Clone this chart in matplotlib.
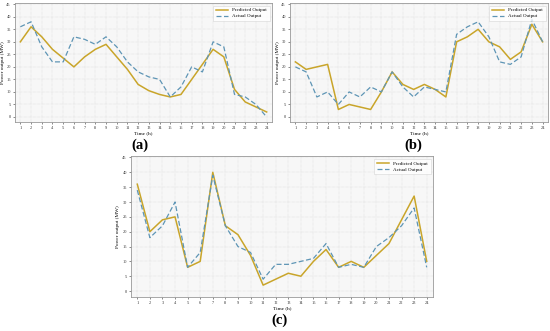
import matplotlib
matplotlib.use("Agg")
import matplotlib.pyplot as plt

hours = list(range(1, 25))
hour_labels = [str(h) for h in hours]
y_ticks = [0, 5, 10, 15, 20, 25, 30, 35, 40, 45]

pred_a = [30, 36, 32, 27, 23.5, 20, 24, 27, 29, 24, 19, 13, 10.5, 9, 8, 9, 15, 21, 27, 24, 11, 6, 4, 2]
act_a = [36, 38, 28, 22, 22, 32, 31, 29, 32, 28, 22, 18, 16, 15, 8, 12, 20, 18, 30, 28, 9, 8, 5, 0]

pred_b = [22, 19, 20, 21, 3, 5, 4, 3, 10, 18, 13, 11, 13, 11, 8, 30, 32, 35, 30, 28, 23, 26, 37, 30]
act_b = [20, 18, 8, 10, 5, 10, 8, 12, 10, 18, 12, 8, 12, 11, 10, 33, 36, 38, 32, 22, 21, 24, 39, 30]

pred_c = [36, 20, 24, 25, 8, 10, 40, 22, 19, 12, 2, 4, 6, 5, 10, 14, 8, 10, 8, 12, 16, 24, 32, 10]
act_c = [34, 18, 22, 30, 8, 13, 39, 22, 15, 13, 4, 9, 9, 10, 11, 16, 8, 9, 8, 15, 18, 22, 28, 8]

plt.rcParams['font.family'] = ['Liberation Serif', 'DejaVu Serif']

PRED_COLOR = '#c9a52a'
ACT_COLOR = '#5e95b5'

fig = plt.figure(figsize=(5.5, 3.31), dpi=100)
fig.patch.set_facecolor('white')

def panel(rect, pred, act, tag, tag_xy, ylabel_x):
    ax = fig.add_axes(rect)
    ax.set_facecolor('#f7f7f7')
    ax.plot(hours, pred, color=PRED_COLOR, lw=1.1, label='Predicted Output')
    ax.plot(hours, act, color=ACT_COLOR, lw=0.9, ls=(0, (4, 2)), label='Actual Output')
    ax.set_xlim(0.5, 24.5)
    ax.set_ylim(-2, 45.5)
    ax.set_xticks(hours)
    ax.set_xticklabels(hour_labels)
    ax.set_yticks(y_ticks)
    ax.tick_params(labelsize=3.2, length=1.5, width=0.4, pad=1.5, colors='#333333')
    ax.grid(True, ls=':', lw=0.35, color='#cccccc')
    for s in ax.spines.values():
        s.set_color('#999999')
        s.set_linewidth(0.6)
    ax.set_xlabel('Time (h)', fontsize=3.8, labelpad=1)
    ax.set_ylabel('Power output (MW)', fontsize=3.8)
    ax.yaxis.set_label_coords(ylabel_x, 0.5)
    leg = ax.legend(loc='upper right', fontsize=3.6, frameon=True, handlelength=2.5,
                    borderpad=0.5, labelspacing=0.3, fancybox=False)
    leg.get_frame().set_linewidth(0.4)
    leg.get_frame().set_edgecolor('#cccccc')
    fig.text(tag_xy[0] / 550, 1 - tag_xy[1] / 331, tag, fontsize=10.5, fontweight='bold',
             ha='center', va='center')
    return ax

panel([15 / 550, 209 / 331, 257 / 550, 119 / 331], pred_a, act_a, '(a)', (140, 145), -0.038)
panel([290 / 550, 209 / 331, 258 / 550, 119 / 331], pred_b, act_b, '(b)', (413, 145), -0.04)
panel([131 / 550, 34 / 331, 302 / 550, 141 / 331], pred_c, act_c, '(c)', (280, 320), -0.035)

fig.savefig('out.png', dpi=100)
